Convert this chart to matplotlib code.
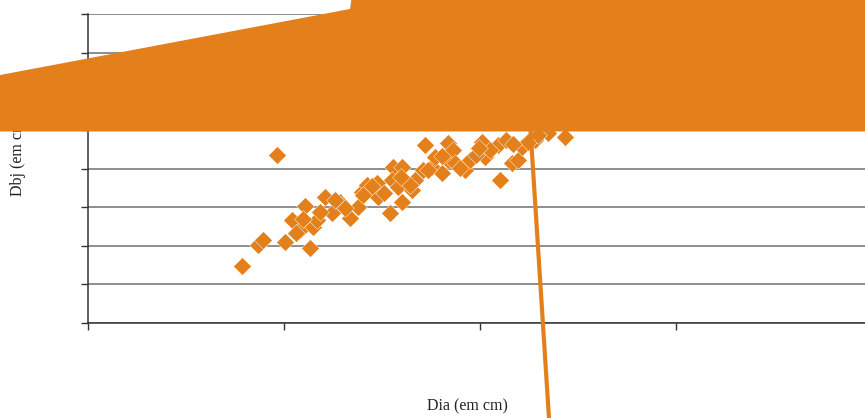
import matplotlib
matplotlib.use("Agg")
import matplotlib.pyplot as plt
from matplotlib.patches import Polygon

# Diameter measurements (cm)
dia = [7.84, 8.69, 8.94, 9.63, 10.05, 10.39, 10.82, 11.07, 10.61, 11.33,
       11.48, 11.67, 12.09, 12.43, 12.86, 12.94, 13.37, 13.79, 13.96, 14.22,
       14.73, 14.81, 15.41, 15.58, 16.00, 15.49, 16.00, 15.82, 16.52, 16.68,
       17.09, 17.19, 17.54, 17.70, 18.05, 18.38, 18.37, 18.62, 18.72, 19.23,
       19.49, 20.09, 20.26, 20.92, 21.02, 21.62, 21.94, 22.13, 22.81, 23.47,
       24.34, 21.33, 22.45, 15.10, 14.49, 19.80, 20.51, 18.98, 10.97, 11.84,
       13.11, 16.43, 17.35, 18.06, 12.60, 14.05, 15.95, 19.95, 21.70, 22.95]
dbj = [7.38, 10.10, 10.74, 21.75, 10.52, 13.33, 12.04, 15.15, 11.65, 9.71,
       12.47, 13.33, 16.35, 14.24, 15.70, 15.28, 13.59, 15.06, 17.00, 17.86,
       18.12, 16.35, 14.24, 20.23, 20.23, 18.51, 15.70, 17.61, 17.22, 18.51,
       19.81, 23.04, 20.23, 21.53, 19.42, 23.30, 21.10, 22.39, 20.71, 19.81,
       21.10, 23.47, 21.53, 23.04, 18.51, 20.71, 21.10, 22.82, 23.69, 24.60,
       24.12, 23.69, 23.43, 16.83, 17.74, 21.75, 22.39, 20.06, 13.46, 14.37,
       14.89, 17.87, 19.81, 21.62, 15.90, 16.60, 18.90, 22.60, 23.20, 24.30]

x_ticks = [0, 10, 20, 30, 40]
y_ticks = [0, 5, 10, 15, 20, 25, 30, 35, 40]

# Filled band and stray segment of the series
band_x = [-4.49, 13.37, 13.47, 41.5, 41.5, -4.49]
band_y = [32.10, 40.65, 42.5, 42.5, 24.79, 24.79]
seg_x = [22.50, 23.55]
seg_y = [28.0, -13.5]

orange = "#E3801C"
serif = ["Liberation Serif", "DejaVu Serif"]

fig = plt.figure(figsize=(8.65, 4.18), dpi=100)
ax = fig.add_axes([88 / 865, (418 - 323) / 418, (872 - 88) / 865, (323 - 14) / 418])

ax.set_xlim(x_ticks[0], x_ticks[-1])
ax.set_ylim(y_ticks[0], y_ticks[-1])
ax.set_xticks(x_ticks)
ax.set_yticks(y_ticks)
ax.set_xticklabels([])
ax.set_yticklabels([])
ax.yaxis.grid(True, color="#858585", linewidth=1.3)
ax.set_axisbelow(True)
for side in ("top", "right"):
    ax.spines[side].set_visible(False)
for side in ("left", "bottom"):
    ax.spines[side].set_color("#333333")
    ax.spines[side].set_linewidth(1.1)
ax.tick_params(direction="out", length=5, width=1.0, color="#333333")

ax.scatter(dia, dbj, marker="D", s=82, color=orange, edgecolors="white",
           linewidths=0.3, zorder=3, clip_on=False)

ax.text(18 / 865, (418 - 196) / 418, "Dbj (em cm)", rotation=90,
        ha="center", va="bottom", fontsize=11.5, family=serif,
        color="#222222", transform=fig.transFigure, zorder=1, clip_on=False)
ax.text(467 / 865, (418 - 406) / 418, "Dia (em cm)", ha="center",
        va="center", fontsize=11.5, family=serif, color="#222222",
        transform=fig.transFigure, zorder=1, clip_on=False)

ax.add_patch(Polygon(list(zip(band_x, band_y)), closed=True, facecolor=orange,
                     edgecolor="none", zorder=6, clip_on=False))
ax.plot(seg_x, seg_y, color=orange, linewidth=3.0, zorder=6, clip_on=False,
        solid_capstyle="butt")

fig.savefig("out.png", dpi=100)
